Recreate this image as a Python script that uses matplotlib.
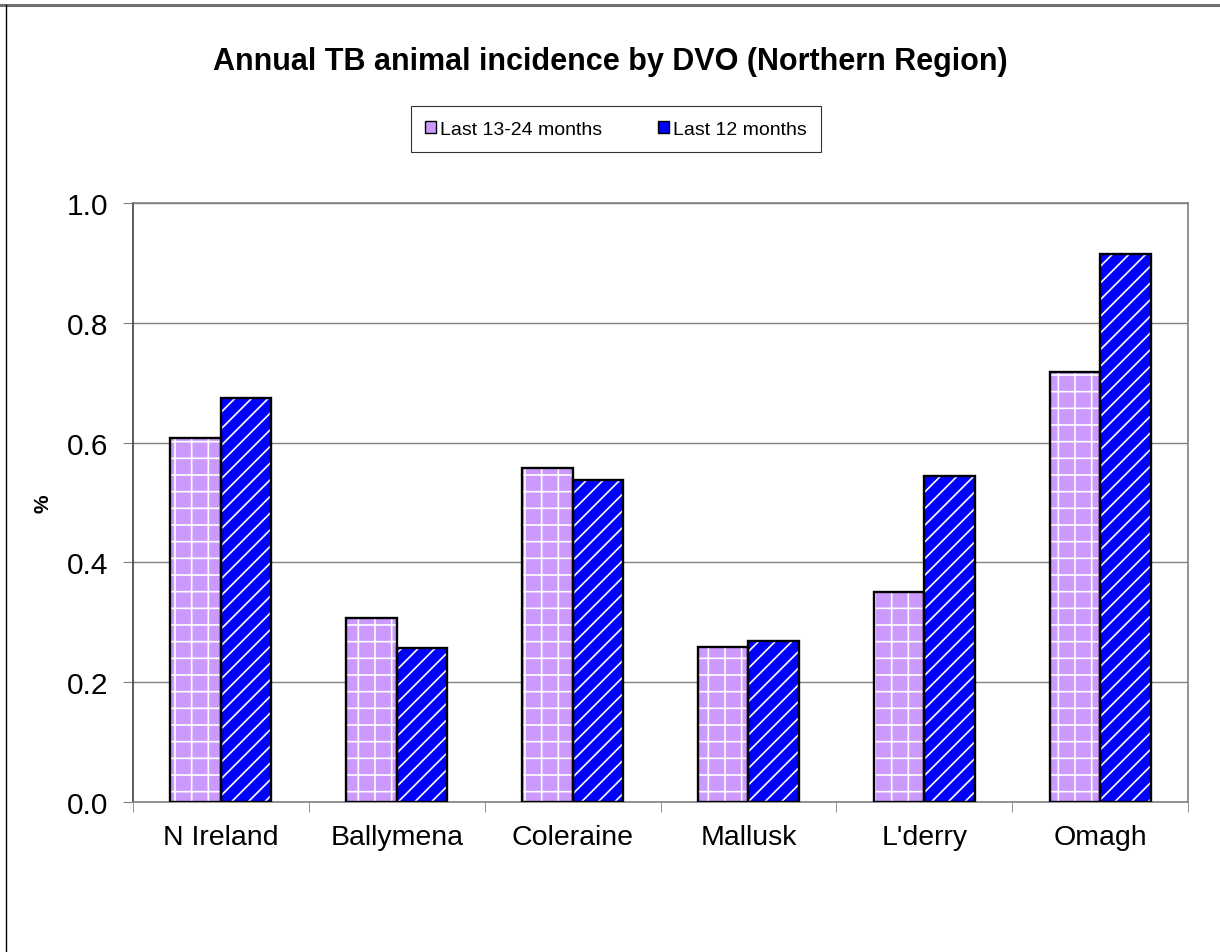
import numpy as np
import matplotlib
matplotlib.use('Agg')
import matplotlib.pyplot as plt
from matplotlib.lines import Line2D
from matplotlib.patches import Patch

plt.rcParams['font.family'] = ['Liberation Sans', 'DejaVu Sans']
plt.rcParams['hatch.linewidth'] = 1.2

CATEGORIES = ['N Ireland', 'Ballymena', 'Coleraine', 'Mallusk', "L'derry", 'Omagh']
PREV_12 = [0.607, 0.307, 0.557, 0.258, 0.350, 0.717]   # last 13-24 months
LAST_12 = [0.674, 0.257, 0.537, 0.268, 0.545, 0.915]   # last 12 months
SERIES = ['Last 13-24 months', 'Last 12 months']
YTICKS = [0.0, 0.2, 0.4, 0.6, 0.8, 1.0]

PURPLE = '#CC99FF'
BLUE = '#0000FF'


def main():
    fig = plt.figure(figsize=(12.2, 9.53), dpi=100)
    ax = fig.add_axes([0.109, 0.1574, 0.8648, 0.6286])

    x = np.arange(len(CATEGORIES))
    w = 0.287
    for vals, off, col, hatch in [(PREV_12, -w / 2, PURPLE, '+'),
                                  (LAST_12, w / 2, BLUE, '//')]:
        # hatch layer (white hatch), then black outline on top
        ax.bar(x + off, vals, w, color=col, edgecolor='white', hatch=hatch,
               linewidth=0, zorder=3)
        ax.bar(x + off, vals, w, fill=False, edgecolor='black',
               linewidth=1.7, zorder=4)

    ax.set_xlim(-0.5, len(CATEGORIES) - 0.5)
    ax.set_ylim(0, 1.0)
    ax.set_yticks(YTICKS)
    ax.set_yticklabels([f'{v:.1f}' for v in YTICKS], fontsize=21.5)
    ax.set_xticks(x)
    ax.set_xticklabels(CATEGORIES, fontsize=20.5)
    ax.set_xticks(np.arange(-0.5, len(CATEGORIES), 1.0), minor=True)
    ax.tick_params(axis='x', which='major', length=0, pad=16)
    ax.tick_params(axis='x', which='minor', length=7, color='#808080')
    ax.tick_params(axis='y', length=7, color='#808080', pad=11)
    ax.yaxis.grid(True, color='#808080', lw=1.0, zorder=0)
    ax.set_axisbelow(True)
    for s in ax.spines.values():
        s.set_color('#808080')
        s.set_linewidth(1.2)
    ax.spines['left'].set_color('#404040')

    ax.set_ylabel('%', fontsize=15, fontweight='bold', labelpad=10)

    fig.text(0.5, 0.935, 'Annual TB animal incidence by DVO (Northern Region)',
             ha='center', va='center', fontsize=22, fontweight='bold')

    handles = [Patch(facecolor=PURPLE, edgecolor='black', label=SERIES[0]),
               Patch(facecolor=BLUE, edgecolor='black', label=SERIES[1])]
    leg = fig.legend(handles=handles, ncol=2, loc='center',
                     bbox_to_anchor=(0.505, 0.8635), fontsize=14,
                     frameon=True, fancybox=False, edgecolor='black',
                     handlelength=0.55, handleheight=0.55, handletextpad=0.2,
                     columnspacing=2.9, borderpad=0.75)
    leg.get_frame().set_linewidth(0.8)

    # outer frame: top and left edges
    fig.add_artist(Line2D([0, 1], [1 - 5.5 / 953] * 2, color='#707070', lw=2.2))
    fig.add_artist(Line2D([5.5 / 1220] * 2, [0, 1 - 5.5 / 953], color='black', lw=1.0))

    fig.savefig('out.png', dpi=100)
    plt.close(fig)


if __name__ == '__main__':
    main()
